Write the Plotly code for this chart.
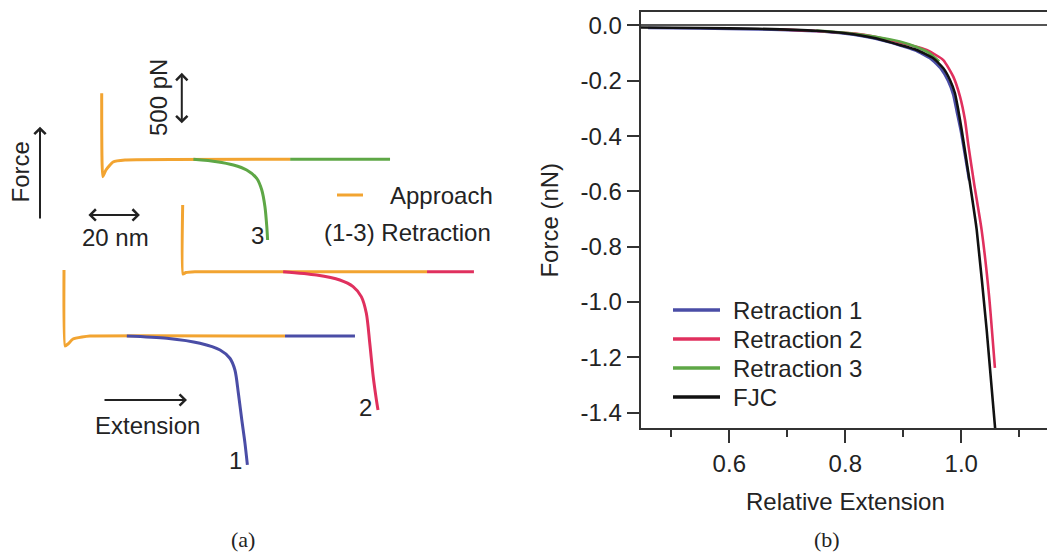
import plotly.graph_objects as go

W, H = 1047, 552
FONT = "Arial, Liberation Sans, sans-serif"
SERIF = "Times New Roman, Liberation Serif, serif"
TXT = "#232323"

# ---------------- Panel (b): force vs relative extension ----------------
fjc_x = [0.4472, 0.55, 0.65, 0.75, 0.80, 0.85, 0.8943, 0.9231, 0.9517, 0.969, 0.9805,
         0.9891, 0.9948, 1.0007, 1.014, 1.0266, 1.0438, 1.0585]
fjc_y = [-0.007, -0.009, -0.012, -0.019, -0.028, -0.045, -0.0705, -0.0886, -0.1186,
         -0.1547, -0.197, -0.245, -0.3055, -0.378, -0.558, -0.739, -1.101, -1.46]

ret1_x = [0.46, 0.55, 0.65, 0.75, 0.80, 0.85, 0.8943, 0.92, 0.947, 0.965, 0.977, 0.986,
          0.992, 0.999, 1.0135]
ret1_y = [-0.009, -0.011, -0.014, -0.021, -0.030, -0.047, -0.072, -0.090, -0.12, -0.157,
          -0.20, -0.25, -0.31, -0.38, -0.56]

ret2_x = [0.685, 0.75, 0.82, 0.88, 0.9403, 0.969, 0.9862, 0.9978, 1.0064, 1.012, 1.022,
          1.035, 1.048, 1.058]
ret2_y = [-0.014, -0.020, -0.030, -0.054, -0.0886, -0.125, -0.185, -0.257, -0.342, -0.43,
          -0.57, -0.738, -0.979, -1.238]

ret3_x = [0.75, 0.80, 0.85, 0.894, 0.923, 0.945, 0.962]
ret3_y = [-0.018, -0.026, -0.040, -0.058, -0.078, -0.100, -0.13]

y_ticks = [0.0, -0.2, -0.4, -0.6, -0.8, -1.0, -1.2, -1.4]
y_ticktext = ["0.0", "-0.2", "-0.4", "-0.6", "-0.8", "-1.0", "-1.2", "-1.4"]

# ---------------- Panel (a): schematic force curves (nm, pN) ----------------
# local coordinates: extension from contact point (nm), force relative to baseline (pN)
app1_nm = [0, 0.4, 1.5, 3.4, 6.8, 9.8, 83.4]
app1_pN = [635, -96, -77, -29, -10, 0, 0]
ret1c_nm = [23.7, 38.8, 51.3, 58.9, 62.6, 64.5, 65.8, 67.1, 68.3, 69.2]
ret1c_pN = [0, -22, -70, -135, -214, -327, -551, -808, -1032, -1240]
ret1f_nm = [83.4, 109.8]
ret1f_pN = [0, 0]

app2_nm = [0, 0.1, 1.2, 4.6, 92.2]
app2_pN = [641, -22, -8, 0, 0]
ret2c_nm = [37.9, 50.5, 59.3, 64.3, 67.4, 69.3, 70.6, 71.9, 73.1, 73.7]
ret2c_pN = [0, -32, -80, -144, -240, -400, -688, -1010, -1233, -1329]
ret2f_nm = [92.2, 109.9]
ret2f_pN = [0, 0]

app3_nm = [0, 0.4, 1.6, 4.3, 8.8, 71.1]
app3_pN = [635, -167, -103, -26, -7, 0]
ret3c_nm = [34.6, 43.4, 49.7, 54.7, 58.5, 60.4, 61.6, 62.3, 62.6]
ret3c_pN = [0, -23, -55, -103, -183, -295, -456, -648, -776]
ret3f_nm = [71.1, 108.8]
ret3f_pN = [0, 0]

# stacking offsets of the three curves (nm, pN)
off = {1: (24.15, -3230.8), 2: (68.94, -2612.5), 3: (38.38, -1531.7)}

scale_ext_nm = 20
scale_force_pN = 500

C_APP = "#F2A431"
C_BLUE = "#4A4DA6"
C_RED = "#E0305E"
C_GREEN = "#5EA746"
C_BLACK = "#111111"

fig = go.Figure()

def shifted(nm, pN, k):
    ox, oy = off[k]
    return [v + ox for v in nm], [v + oy for v in pN]

sets = [
    (1, app1_nm, app1_pN, ret1c_nm, ret1c_pN, ret1f_nm, ret1f_pN, C_BLUE),
    (2, app2_nm, app2_pN, ret2c_nm, ret2c_pN, ret2f_nm, ret2f_pN, C_RED),
    (3, app3_nm, app3_pN, ret3c_nm, ret3c_pN, ret3f_nm, ret3f_pN, C_GREEN),
]
for k, anm, apn, rcnm, rcpn, rfnm, rfpn, col in sets:
    x, y = shifted(rfnm, rfpn, k)
    fig.add_trace(go.Scatter(x=x, y=y, mode="lines", line=dict(color=col, width=3),
                             xaxis="x2", yaxis="y2", showlegend=False, hoverinfo="skip"))
    x, y = shifted(anm, apn, k)
    fig.add_trace(go.Scatter(x=x, y=y, mode="lines",
                             line=dict(color=C_APP, width=3, shape="spline", smoothing=0.4),
                             xaxis="x2", yaxis="y2", showlegend=False, hoverinfo="skip"))
    x, y = shifted(rcnm, rcpn, k)
    fig.add_trace(go.Scatter(x=x, y=y, mode="lines",
                             line=dict(color=col, width=3, shape="spline", smoothing=0.8),
                             xaxis="x2", yaxis="y2", showlegend=False, hoverinfo="skip"))

series_b = [("Retraction 1", ret1_x, ret1_y, C_BLUE),
            ("Retraction 2", ret2_x, ret2_y, C_RED),
            ("Retraction 3", ret3_x, ret3_y, C_GREEN),
            ("FJC", fjc_x, fjc_y, C_BLACK)]
for name, xs, ys, col in series_b:
    fig.add_trace(go.Scatter(x=xs, y=ys, mode="lines", name=name, showlegend=False,
                             line=dict(color=col, width=2.6, shape="spline", smoothing=0.5),
                             xaxis="x", yaxis="y"))

def PX(x):
    return x / W

def PY(y):
    return 1 - y / H

PX_PER_NM = 2.65
PX_PER_PN = 0.104
LEFT_W = 520

ann = []
shapes = []

def text(x, y, s, size=24, angle=0, xanchor="center", family=FONT):
    ann.append(dict(x=PX(x), y=PY(y), xref="paper", yref="paper", text=s, showarrow=False,
                    textangle=angle, xanchor=xanchor, yanchor="middle",
                    font=dict(family=family, size=size, color=TXT)))

# panel (a) text
text(20, 172.5, "Force", angle=-90)
text(158, 98, "500 pN", angle=-90)
text(115, 237, "20 nm")
text(257, 235, "3")
text(365, 407, "2")
text(235, 460, "1")
text(388, 195, "Approach", xanchor="left")
text(322, 232, "(1-3) Retraction", xanchor="left")
text(147, 425, "Extension")
text(242.7, 539, "(a)", size=22, family=SERIF)
text(827.3, 539, "(b)", size=22, family=SERIF)
# panel (b) axis titles
text(845, 501.7, "Relative Extension")
text(548.6, 220, "Force (nN)", angle=-90)

# legend of panel (b)
legend_rows = [310, 339, 368, 397]
for (name, _, _, col), ry in zip(series_b, legend_rows):
    shapes.append(dict(type="line", xref="paper", yref="paper", x0=PX(673), x1=PX(720),
                       y0=PY(ry), y1=PY(ry), line=dict(color=col, width=3.5)))
    text(731, ry, name, xanchor="left")

# legend key of panel (a)
shapes.append(dict(type="line", xref="paper", yref="paper", x0=PX(337), x1=PX(363),
                   y0=PY(195), y1=PY(195), line=dict(color=C_APP, width=3)))

def arrow(hx, hy, tx, ty):
    ann.append(dict(x=PX(hx), y=PY(hy), xref="paper", yref="paper", ax=tx - hx, ay=ty - hy,
                    axref="pixel", ayref="pixel", text="", showarrow=True, arrowhead=4,
                    arrowsize=1.1, arrowwidth=2, arrowcolor="#222", standoff=0,
                    startstandoff=0))

arrow(40, 126.7, 40, 220)            # Force arrow
arrow(187, 400, 103, 400)            # Extension arrow

# scale bars in data units of panel (a)
sb_force_x = 68.6
sb_force_y0 = -1200
ann.append(dict(x=sb_force_x, y=sb_force_y0 + scale_force_pN, ax=sb_force_x, ay=sb_force_y0,
                xref="x2", yref="y2", axref="x2", ayref="y2", text="", showarrow=True,
                arrowhead=4, startarrowhead=4, arrowside="end+start", arrowsize=1.1,
                startarrowsize=1.1, arrowwidth=2, arrowcolor="#222", standoff=0,
                startstandoff=0))
sb_ext_x0 = 32.8
sb_ext_y = -2067
ann.append(dict(x=sb_ext_x0 + scale_ext_nm, y=sb_ext_y, ax=sb_ext_x0, ay=sb_ext_y,
                xref="x2", yref="y2", axref="x2", ayref="y2", text="", showarrow=True,
                arrowhead=4, startarrowhead=4, arrowside="end+start", arrowsize=1.1,
                startarrowsize=1.1, arrowwidth=2, arrowcolor="#222", standoff=0,
                startstandoff=0))

axis_common = dict(showgrid=False, linecolor="#333", linewidth=2, ticks="outside",
                   tickwidth=2, tickcolor="#333",
                   tickfont=dict(family=FONT, size=24, color=TXT))

fig.update_layout(
    width=W, height=H,
    margin=dict(l=0, r=0, t=0, b=0),
    paper_bgcolor="white", plot_bgcolor="white",
    xaxis=dict(domain=[640.7 / W, 1.0], range=[0.4472, 1.1478], anchor="y",
               showline=True, mirror=True, zeroline=False,
               tickmode="linear", tick0=0, dtick=0.2, tickformat=".1f", ticklen=13,
               minor=dict(ticks="outside", tick0=0, dtick=0.1, ticklen=7, tickwidth=2,
                          tickcolor="#333"),
               **axis_common),
    yaxis=dict(domain=[(H - 428.3) / H, (H - 11.5) / H], range=[-1.4564, 0.0506],
               anchor="x", showline=True, zeroline=True, zerolinecolor="#555",
               zerolinewidth=1.6, tickmode="array", tickvals=y_ticks,
               ticktext=y_ticktext, ticklen=12, **axis_common),
    xaxis2=dict(domain=[0, LEFT_W / W], range=[0, LEFT_W / PX_PER_NM], anchor="y2",
                visible=False, fixedrange=True),
    yaxis2=dict(domain=[0, 1], range=[-H / PX_PER_PN, 0], anchor="x2",
                visible=False, fixedrange=True),
    annotations=ann,
    shapes=shapes,
    showlegend=False,
)

fig.write_html("out.html")
